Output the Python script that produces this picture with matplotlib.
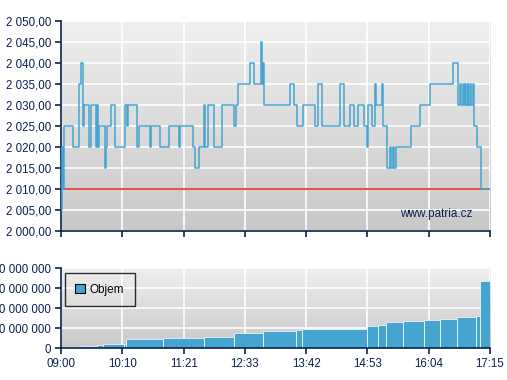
import numpy as np
import matplotlib
matplotlib.use('Agg')
import matplotlib.pyplot as plt
from matplotlib.colors import LinearSegmentedColormap
from matplotlib.ticker import FuncFormatter

plt.rcParams['font.family'] = ['Liberation Sans', 'DejaVu Sans']

# cas v minutach od 09:00, cena
times = [0, 0.6, 2.0, 3.8, 14.2, 20.4, 21.1, 23.4, 25.7, 26.9, 32.6, 34.9, 40.7, 41.5,
         42.3, 44.2, 50.4, 51.5, 53.4, 58.0, 62.6, 73.4, 76.4, 77.0, 88.0, 89.6, 102.6,
         103.4, 114.1, 124.9, 136.4, 137.5, 152.5, 154.8, 159.5, 164.9, 165.7, 169.8,
         176.8, 185.3, 199.8, 202.1, 204.4, 218.3, 222.9, 231.0, 231.8, 233.3, 234.4,
         264.8, 269.4, 271.8, 279.4, 293.2, 296.6, 301.2, 322.3, 326.6, 333.6, 338.2,
         343.2, 349.7, 353.6, 354.3, 358.9, 362.4, 364.0, 370.5, 371.1, 376.2, 379.7,
         380.3, 383.1, 383.7, 387.1, 404.4, 414.7, 426.3, 452.3, 458.1, 460.9, 461.8,
         463.9, 464.7, 466.6, 467.4, 469.3, 470.1, 471.9, 472.7, 475.8, 476.6, 480.1,
         484.6, 495]
prices = [2005, 2020, 2010, 2025, 2020, 2030, 2035, 2040, 2025, 2030, 2020, 2030, 2020, 2030,
          2020, 2025, 2015, 2020, 2025, 2030, 2020, 2030, 2025, 2030, 2020, 2025, 2020,
          2025, 2020, 2025, 2020, 2025, 2020, 2015, 2020, 2030, 2020, 2030,
          2020, 2030, 2025, 2030, 2035, 2040, 2035, 2045, 2035, 2040, 2030,
          2035, 2030, 2025, 2030, 2025, 2035, 2025, 2035, 2025, 2030, 2025,
          2030, 2025, 2020, 2030, 2025, 2035, 2030, 2035, 2025, 2015, 2020,
          2015, 2020, 2015, 2020, 2025, 2030, 2035, 2040, 2030, 2035, 2030,
          2035, 2030, 2035, 2030, 2035, 2030, 2035, 2030, 2035, 2025, 2020,
          2010, 2010]
prev_close = 2010

# kumulativni objem (miliony)
vol_t = [0, 7.7, 23.1, 29.6, 41.2, 48.1, 72.6, 74.9, 118, 165.2, 199.5, 233.3, 271, 277.5,
         352.5, 365.8, 375.5, 394.7, 418.5, 437, 457, 479.3, 484]
vol_m = [6, 7, 12, 14, 17, 22, 24, 47, 51, 57, 77, 87, 92, 97,
         112, 117, 133, 138, 143, 147, 157, 163, 337]

tick_labels = ['09:00', '10:10', '11:21', '12:33', '13:42', '14:53', '16:04', '17:15']
t_end = 495

navy = '#0b2152'
blue = '#45a5d0'
grad_cmap = LinearSegmentedColormap.from_list('bg', ['#c8c8c8', '#efefef'])
grad = np.linspace(0, 1, 256).reshape(-1, 1)
xticks = np.linspace(0, t_end, len(tick_labels))


def style(ax, ylo, yhi):
    ax.imshow(grad, extent=[0, t_end, ylo, yhi], aspect='auto', cmap=grad_cmap,
              origin='lower', zorder=0)
    ax.set_xlim(0, t_end)
    ax.set_ylim(ylo, yhi)
    ax.set_xticks(xticks)
    ax.grid(True, color='white', lw=1.2)
    ax.set_axisbelow(True)
    for s in ['top', 'right']:
        ax.spines[s].set_visible(False)
    for s in ['left', 'bottom']:
        ax.spines[s].set_color(navy)
        ax.spines[s].set_linewidth(1.2)
    ax.tick_params(colors=navy, labelcolor=navy, labelsize=8.3, length=4, width=1.2, pad=3)


fig = plt.figure(figsize=(5.07, 3.80), dpi=100)
ax1 = fig.add_axes([0.1203, 0.3929, 0.8462, 0.5526])
ax2 = fig.add_axes([0.1203, 0.0834, 0.8462, 0.2105])

style(ax1, 2000, 2050)
ax1.set_yticks(np.arange(2000, 2051, 5))
ax1.yaxis.set_major_formatter(FuncFormatter(
    lambda v, p: f"{v:,.2f}".replace(',', ' ').replace('.', ',')))
ax1.set_xticklabels([])
ax1.axhline(prev_close, color='#e8302c', lw=1.2, zorder=2)
ax1.plot(times, prices, drawstyle='steps-post', color=blue, lw=1.1, zorder=3)
ax1.text(475, 2004, 'www.patria.cz', color=navy, fontsize=8.5, ha='right', va='center')

style(ax2, 0, 400e6)
ax2.set_yticks(np.arange(0, 400e6 + 1, 100e6))
ax2.yaxis.set_major_formatter(FuncFormatter(lambda v, p: f"{int(v):,}".replace(',', ' ')))
ax2.set_xticklabels(tick_labels)
widths = np.diff(vol_t + [t_end])
ax2.bar(vol_t, np.array(vol_m) * 1e6, width=widths, align='edge', color=blue,
        edgecolor='white', linewidth=0.5, label='Objem', zorder=2)
leg = ax2.legend(loc='upper left', fancybox=False, facecolor='none', edgecolor='black',
                 fontsize=8.5, handlelength=0.8, handleheight=0.8, handletextpad=0.4,
                 borderpad=0.9, borderaxespad=0, bbox_to_anchor=(0.009, 0.94))
leg.get_frame().set_linewidth(1.0)
for h in leg.legend_handles:
    h.set_edgecolor('black')
    h.set_linewidth(0.8)

fig.savefig('out.png', dpi=100)
